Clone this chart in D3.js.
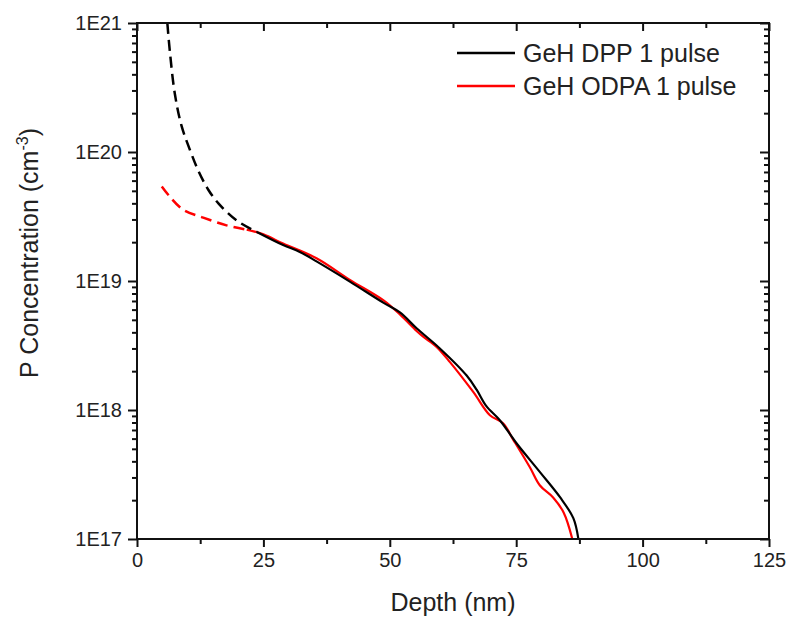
<!DOCTYPE html>
<meta charset="utf-8">
<style>
  body { margin: 0; background: #fff; }
  text { font-family: "Liberation Sans", Arial, sans-serif; fill: #222; }
</style>
<body>
  <script src="https://d3js.org/d3.v7.min.js"></script>
  <script>
    // depth (nm) and P concentration (cm^-3)
    var dppSurfDepth = [6.0, 6.5, 7.5, 8.8, 10.5, 12.1, 14.1, 16.1, 19.7, 23.7];
    var dppSurfConc = [1.0e21, 6.0e20, 2.8e20, 1.6e20, 1.03e20, 7.2e19, 5.1e19, 4.0e19, 2.95e19, 2.4e19];

    var dppDepth = [23.7, 28.9, 32.2, 35.5, 42.1, 48.7, 52, 55.3, 59.9, 65.2, 67.2, 69.1, 71.8, 75.1, 79.7, 83.7, 86.3, 87.3];
    var dppConc = [2.4e19, 1.9e19, 1.68e19, 1.42e19, 9.9e18, 6.8e18, 5.7e18, 4.3e18, 3.0e18, 1.85e18, 1.43e18, 1.07e18, 8.3e17, 5.5e17, 3.3e17, 2.1e17, 1.45e17, 1.0e17];

    var odpaSurfDepth = [4.9, 6.5, 9.2, 13.1, 17.7, 21.7];
    var odpaSurfConc = [5.4e19, 4.5e19, 3.55e19, 3.1e19, 2.7e19, 2.5e19];

    var odpaDepth = [21.7, 25, 28.9, 35.5, 42.1, 48.7, 52, 55.3, 56.6, 59.2, 61.9, 66.5, 69.8, 72.4, 74.4, 77.7, 79.7, 82.3, 84.4, 86.1];
    var odpaConc = [2.5e19, 2.3e19, 1.95e19, 1.5e19, 1.02e19, 7.1e18, 5.5e18, 4.1e18, 3.7e18, 3.1e18, 2.35e18, 1.38e18, 9.1e17, 7.9e17, 5.9e17, 3.6e17, 2.6e17, 2.1e17, 1.6e17, 1.0e17];

    var xTicks = [0, 25, 50, 75, 100, 125];
    var yTicks = [1e17, 1e18, 1e19, 1e20, 1e21];
    var yTickLabels = ["1E17", "1E18", "1E19", "1E20", "1E21"];
    var seriesNames = ["GeH DPP 1 pulse", "GeH ODPA 1 pulse"];
    var seriesColors = ["#000000", "#ff0000"];

    var width = 786, height = 619;
    var pLeft = 137, pRight = 769, pTop = 23, pBottom = 539;

    var x = d3.scaleLinear().domain([0, 125]).range([pLeft, pRight]);
    var y = d3.scaleLog().domain([1e17, 1e21]).range([pBottom, pTop]);

    var svg = d3.select("body").append("svg")
      .attr("width", width)
      .attr("height", height);

    svg.append("clipPath").attr("id", "plot")
      .append("rect")
      .attr("x", pLeft).attr("y", pTop)
      .attr("width", pRight - pLeft).attr("height", pBottom - pTop);

    function zip(a, b) {
      return a.map(function(d, i) { return [d, b[i]]; });
    }

    var line = d3.line()
      .curve(d3.curveCatmullRom.alpha(0.5))
      .x(function(d) { return x(d[0]); })
      .y(function(d) { return y(d[1]); });

    var plot = svg.append("g").attr("clip-path", "url(#plot)");

    // ODPA first so DPP sits on top
    plot.append("path").datum(zip(odpaSurfDepth, odpaSurfConc))
      .attr("d", line).style("fill", "none")
      .style("stroke", seriesColors[1]).style("stroke-width", 2.5)
      .style("stroke-dasharray", "11,6");
    plot.append("path").datum(zip(odpaDepth, odpaConc))
      .attr("d", line).style("fill", "none")
      .style("stroke", seriesColors[1]).style("stroke-width", 2.2);

    plot.append("path").datum(zip(dppSurfDepth, dppSurfConc))
      .attr("d", line).style("fill", "none")
      .style("stroke", seriesColors[0]).style("stroke-width", 2.5)
      .style("stroke-dasharray", "11,6");
    plot.append("path").datum(zip(dppDepth, dppConc))
      .attr("d", line).style("fill", "none")
      .style("stroke", seriesColors[0]).style("stroke-width", 2.2);

    // minor ticks
    var xMinor = d3.range(12.5, 125, 25);
    var yMinor = [];
    yTicks.slice(0, -1).forEach(function(v) {
      for (var k = 2; k <= 9; k++) yMinor.push(v * k);
    });

    function noDomain(g) { g.select(".domain").remove(); }

    // bottom axis (outward) and top axis (inward)
    svg.append("g")
      .attr("transform", "translate(0," + pBottom + ")")
      .call(d3.axisBottom(x).tickValues(xTicks).tickSize(8).tickFormat(d3.format("d")))
      .call(function(g) {
        noDomain(g);
        g.selectAll("text").style("font-size", "20px").attr("y", 12).attr("dy", "0.8em");
      });
    svg.append("g")
      .attr("transform", "translate(0," + pBottom + ")")
      .call(d3.axisBottom(x).tickValues(xMinor).tickSize(5).tickFormat(""))
      .call(noDomain);
    svg.append("g")
      .attr("transform", "translate(0," + pTop + ")")
      .call(d3.axisBottom(x).tickValues(xTicks).tickSize(8).tickFormat(""))
      .call(noDomain);
    svg.append("g")
      .attr("transform", "translate(0," + pTop + ")")
      .call(d3.axisBottom(x).tickValues(xMinor).tickSize(5).tickFormat(""))
      .call(noDomain);

    // left axis (outward) and right axis (inward)
    svg.append("g")
      .attr("transform", "translate(" + pLeft + ",0)")
      .call(d3.axisLeft(y).tickValues(yTicks).tickSize(9)
        .tickFormat(function(d, i) { return yTickLabels[i]; }))
      .call(function(g) {
        noDomain(g);
        g.selectAll("text").style("font-size", "20px").attr("x", -15);
      });
    svg.append("g")
      .attr("transform", "translate(" + pLeft + ",0)")
      .call(d3.axisLeft(y).tickValues(yMinor).tickSize(5).tickFormat(""))
      .call(noDomain);
    svg.append("g")
      .attr("transform", "translate(" + pRight + ",0)")
      .call(d3.axisLeft(y).tickValues(yTicks).tickSize(9).tickFormat(""))
      .call(noDomain);
    svg.append("g")
      .attr("transform", "translate(" + pRight + ",0)")
      .call(d3.axisLeft(y).tickValues(yMinor).tickSize(5).tickFormat(""))
      .call(noDomain);

    svg.selectAll(".tick line").style("stroke", "#111").style("stroke-width", 2);

    // frame
    svg.append("rect")
      .attr("x", pLeft).attr("y", pTop)
      .attr("width", pRight - pLeft).attr("height", pBottom - pTop)
      .style("fill", "none").style("stroke", "#111").style("stroke-width", 2);

    // axis titles
    svg.append("text")
      .attr("x", (pLeft + pRight) / 2).attr("y", 611)
      .attr("text-anchor", "middle")
      .style("font-size", "25px")
      .text("Depth (nm)");

    var yt = svg.append("text")
      .attr("transform", "translate(38," + 253 + ") rotate(-90)")
      .attr("text-anchor", "middle")
      .style("font-size", "25px");
    yt.append("tspan").text("P Concentration (cm");
    yt.append("tspan").attr("dy", -10).style("font-size", "16px").text("-3");
    yt.append("tspan").attr("dy", 10).text(")");

    // legend
    var legend = svg.append("g");
    seriesNames.forEach(function(name, i) {
      var ly = 53 + i * 33;
      legend.append("line")
        .attr("x1", 457).attr("x2", 515)
        .attr("y1", ly).attr("y2", ly)
        .style("stroke", seriesColors[i]).style("stroke-width", 2.5);
      legend.append("text")
        .attr("x", 523).attr("y", ly + 9)
        .style("font-size", "25px")
        .text(name);
    });
  </script>
</body>
